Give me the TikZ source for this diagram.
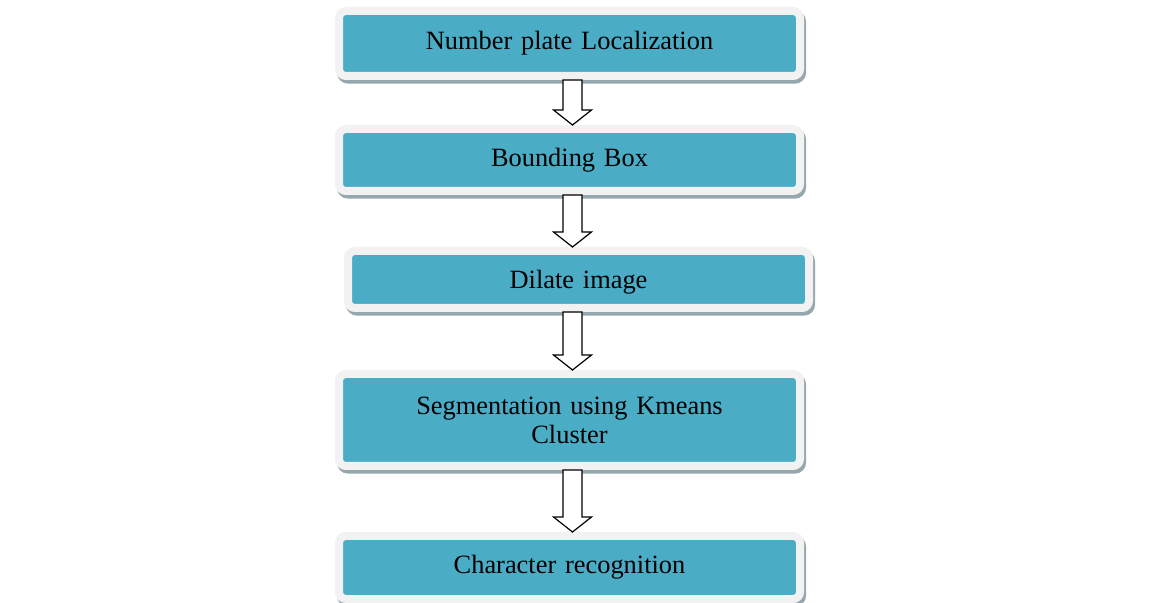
\documentclass[tikz,border=0pt]{standalone}
\usepackage{fontspec}
\setmainfont{Liberation Serif}
\usetikzlibrary{calc,shadows}
\definecolor{stageblue}{HTML}{4BACC6}
\definecolor{framegrey}{HTML}{F2F2F2}
\definecolor{shadowgrey}{HTML}{97A7AE}
\begin{document}
\begin{tikzpicture}[x=0.5pt,y=-0.5pt,
  stage/.style={draw=framegrey, fill=stageblue, line width=4pt, rounded corners=3.5pt,
    minimum width=230.5pt, text width=220pt, align=center, inner sep=0pt,
    font=\fontsize{13.2}{14.5}\selectfont,
    drop shadow={shadow xshift=1pt, shadow yshift=-1.8pt, fill=shadowgrey,
      draw=shadowgrey, line width=4pt, opacity=1}},
  hollowarrow/.style={draw=black, fill=white, line width=0.6pt, line join=miter}]
\useasboundingbox (0,0) rectangle (1172,603);

\node (1) at (569.5,43.5) [stage, minimum height=32.5pt] {Number plate Localization};
\node (2) at (569.5,160) [stage, minimum height=31pt] {Bounding Box};
\node (3) at (578.5,279.5) [stage, minimum height=28.5pt, text depth=0pt] {Dilate image};
\node (4) at (569.5,420) [stage, minimum height=46pt] {Segmentation using Kmeans\\Cluster};
\node (5) at (569.5,567.5) [stage, minimum height=31.5pt] {Character recognition};
\coordinate (axis) at (572.5,0);

\foreach \a/\b in {1/2,2/3,3/4,4/5}
\draw[hollowarrow] let \p0=(axis), \p1=(\a.south), \p2=(\b.north) in
(\x0-4.75pt,\y1) -- (\x0-4.75pt,\y2+7.5pt) -- (\x0-9.5pt,\y2+7.5pt) -- (\x0,\y2)
-- (\x0+9.5pt,\y2+7.5pt) -- (\x0+4.75pt,\y2+7.5pt) -- (\x0+4.75pt,\y1) -- cycle;
\end{tikzpicture}
\end{document}
